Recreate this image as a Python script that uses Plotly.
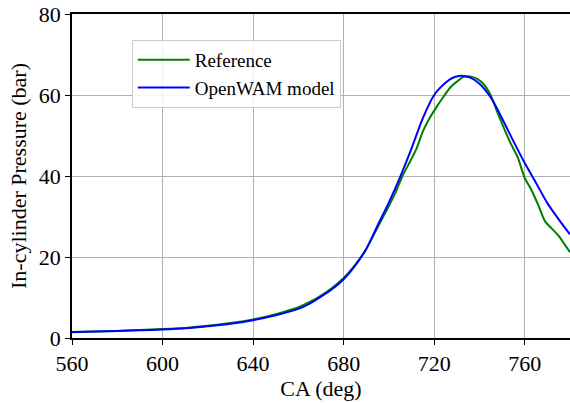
import plotly.graph_objects as go

# Crank angle (deg) and in-cylinder pressure (bar)
ca_ref = [560, 570, 580, 590, 600, 610, 620, 630, 640, 650, 660, 665, 670, 675,
          680, 685, 690, 695, 700, 703, 706, 709, 712, 715, 718, 721, 724, 727,
          730, 733, 736, 739, 742, 745, 748, 751, 754, 757, 760, 763, 766, 769,
          772, 775, 778, 780]
p_ref = [1.4, 1.6, 1.75, 1.95, 2.2, 2.5, 3.0, 3.7, 4.6, 5.9, 7.6, 8.9, 10.5, 12.4,
         14.8, 18.0, 22.0, 27.3, 32.6, 36.0, 40.0, 43.2, 46.5, 51.0, 54.3, 57.0, 59.5, 61.8,
         63.3, 64.5, 64.6, 64.0, 62.6, 59.9, 55.6, 51.6, 47.8, 44.5, 39.5, 36.5, 32.8, 28.8,
         27.0, 25.2, 22.8, 21.2]

ca_model = [560, 570, 580, 590, 600, 610, 620, 630, 640, 650, 660, 665, 670, 675,
            680, 685, 690, 695, 700, 705, 710, 715, 720, 725, 728, 731, 733, 736,
            740, 745, 750, 755, 760, 765, 770, 775, 780]
p_model = [1.5, 1.6, 1.75, 1.9, 2.1, 2.4, 2.9, 3.5, 4.4, 5.6, 7.2, 8.5, 10.2, 12.1,
           14.5, 17.8, 22.0, 27.8, 33.5, 39.8, 46.8, 54.3, 60.0, 63.0, 64.2, 64.7, 64.7, 64.3,
           62.8, 59.4, 54.2, 48.6, 43.2, 38.3, 33.3, 29.3, 25.6]

x_ticks = [560, 600, 640, 680, 720, 760]
y_ticks = [0, 20, 40, 60, 80]

FONT = "Liberation Serif"

fig = go.Figure()
fig.add_trace(go.Scatter(x=ca_ref, y=p_ref, mode="lines", name="Reference",
                         line=dict(color="#008000", width=2, shape="spline", smoothing=0.6)))
fig.add_trace(go.Scatter(x=ca_model, y=p_model, mode="lines", name="OpenWAM model",
                         line=dict(color="#0000ff", width=2, shape="spline", smoothing=0.8)))

axis_common = dict(
    showgrid=True, gridcolor="#b0b0b0", gridwidth=1,
    showline=True, linecolor="black", linewidth=1.5,
    ticks="outside", ticklen=5, tickwidth=1.2, tickcolor="black",
    tickfont=dict(family=FONT, size=22, color="black"),
    zeroline=False,
)

fig.update_xaxes(range=[560, 780], tickvals=x_ticks, mirror=True,
                 title=dict(text="CA (deg)", font=dict(family=FONT, size=22, color="black"),
                            standoff=2),
                 **axis_common)
fig.update_yaxes(range=[0, 80], tickvals=y_ticks,
                 title=dict(text="In-cylinder Pressure (bar)",
                            font=dict(family=FONT, size=22, color="black"), standoff=6),
                 **axis_common)

fig.update_layout(
    width=570, height=403,
    margin=dict(l=72, r=0, t=14, b=65),
    plot_bgcolor="white", paper_bgcolor="white",
    font=dict(family=FONT, size=22, color="black"),
    legend=dict(x=0.12, y=0.92, xanchor="left", yanchor="top",
                bgcolor="rgba(255,255,255,0.85)", bordercolor="#cccccc", borderwidth=1,
                font=dict(family=FONT, size=19, color="black"),
                itemwidth=52),
)

fig.write_html("out.html")
